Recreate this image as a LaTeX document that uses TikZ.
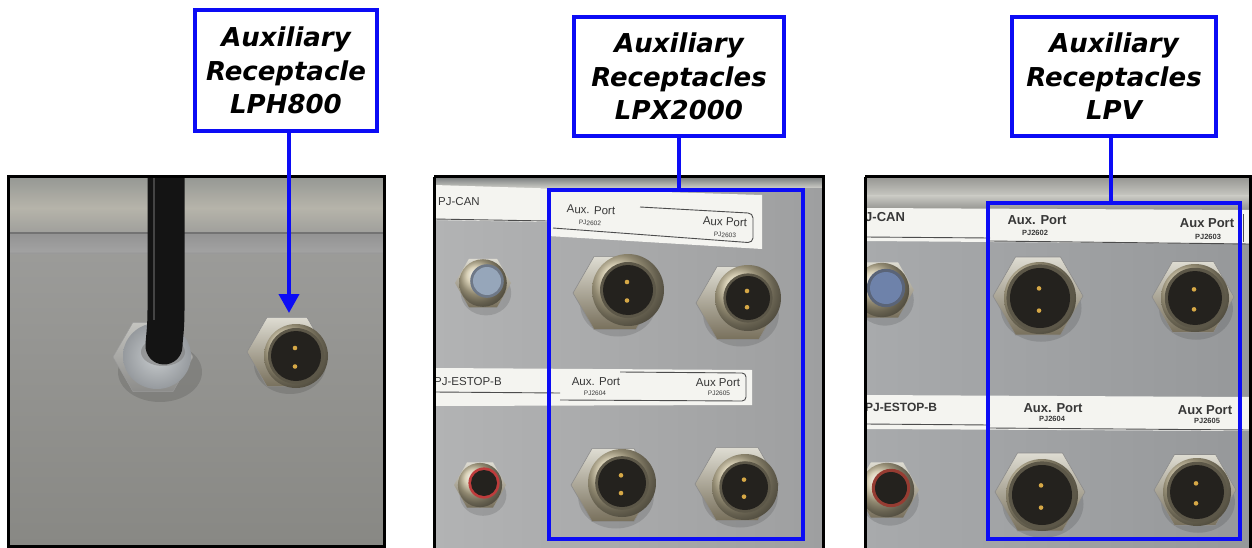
\documentclass[tikz,border=0pt]{standalone}
\usepackage{fontspec}
\newfontfamily\labfont{DejaVu Sans}
\newfontfamily\tagfont{Liberation Sans}
\usetikzlibrary{arrows.meta,calc,fadings}
\definecolor{bx}{RGB}{12,12,245}
\definecolor{cab}{RGB}{20,20,20}
\definecolor{tagc}{RGB}{55,55,55}
\definecolor{lbl}{RGB}{244,244,240}
\definecolor{pinc}{RGB}{214,168,70}
\definecolor{jk}{RGB}{36,34,30}
\definecolor{ringc}{RGB}{205,194,160}
\definecolor{hexa}{RGB}{222,220,210}
\definecolor{hexb}{RGB}{120,112,92}
\definecolor{pa}{RGB}{160,160,158}
\definecolor{pb}{RGB}{136,136,132}
\definecolor{ra}{RGB}{150,152,148}
\definecolor{rb}{RGB}{182,180,170}
\definecolor{rc}{RGB}{160,160,156}
\definecolor{rd}{RGB}{148,148,148}
\definecolor{re}{RGB}{162,162,162}
\definecolor{ga}{RGB}{196,196,192}
\definecolor{gb}{RGB}{140,140,138}
\definecolor{gc}{RGB}{200,204,206}
\definecolor{gd}{RGB}{150,154,158}
\definecolor{qa}{RGB}{178,179,180}
\definecolor{qb}{RGB}{158,159,160}
\definecolor{qc}{RGB}{120,124,124}
\definecolor{qd}{RGB}{205,205,200}
\definecolor{sa}{RGB}{168,170,172}
\definecolor{sb}{RGB}{150,152,154}
\definecolor{sc}{RGB}{150,150,146}
\definecolor{sd}{RGB}{200,200,194}
\definecolor{cana}{RGB}{150,166,186}
\definecolor{canb}{RGB}{110,120,135}
\definecolor{canc}{RGB}{110,130,170}
\definecolor{cand}{RGB}{90,100,120}
\definecolor{esta}{RGB}{190,60,60}
\definecolor{estb}{RGB}{150,60,50}
\tikzfading[name=vband,left color=transparent!100,middle color=transparent!0,right color=transparent!100]
\tikzset{
  labbox/.style={draw=bx,line width=4pt,fill=white,inner sep=0pt,align=center,
    font=\labfont\bfseries\itshape\fontsize{26}{33.5}\selectfont},
  selbox/.style={draw=bx,line width=4pt,inner sep=0pt},
  bline/.style={draw=bx,line width=4pt},
  tagbig/.style={inner sep=0pt,text=tagc,font=\tagfont\fontsize{11.5}{12}\selectfont},
  tagsml/.style={inner sep=0pt,text=tagc,font=\tagfont\fontsize{6.5}{7}\selectfont},
  tagbig3/.style={inner sep=0pt,text=tagc,font=\tagfont\bfseries\fontsize{13}{14}\selectfont},
  tagsml3/.style={inner sep=0pt,text=tagc,font=\tagfont\bfseries\fontsize{7.5}{8}\selectfont},
  panelframe/.style={draw=black,line width=3pt},
  strip/.style={fill=lbl},
  labline/.style={draw=black!70,line width=0.9pt}
}
% #1 hex centre, #2 hex radius, #3 ring centre, #4 ring radius, #5 inner radius
\newcommand\auxjack[5]{%
  \coordinate (hc) at #1; \coordinate (rcn) at #3;
  \fill[black,opacity=0.12] ($(hc)+(3,12)$) ellipse ({#2*0.9} and {#2*0.75});
  \shade[top color=hexa,bottom color=hexb,draw=black!45,line width=0.6pt]
    (hc) +(0:#2) -- +(60:#2) -- +(120:#2) -- +(180:#2) -- +(240:#2) -- +(300:#2) -- cycle;
  \shade[ball color=ringc] (rcn) circle (#4);
  \fill[black!55!ringc] (rcn) circle ({#5*1.12});
  \fill[jk] (rcn) circle (#5);
  \fill[pinc] ($(rcn)+(-1,{-0.32*#5})$) circle (2.3);
  \fill[pinc] ($(rcn)+(-1,{0.42*#5})$) circle (2.3);
}
\newcommand\smalljack[4]{% #1 centre, #2 outer radius, #3 inner colour, #4 accent colour
  \coordinate (scn) at #1;
  \fill[black,opacity=0.12] ($(scn)+(3,10)$) ellipse ({#2*0.9} and {#2*0.8});
  \shade[top color=hexa,bottom color=hexb] (scn) +(0:#2) -- +(60:#2) -- +(120:#2) -- +(180:#2) -- +(240:#2) -- +(300:#2) -- cycle;
  \shade[ball color=ringc] (scn) circle ({#2*0.85});
  \fill[fill=#4] ($(scn)+(4,-2)$) circle ({#2*0.6});
  \fill[fill=#3] ($(scn)+(4,-2)$) circle ({#2*0.5});
}
\begin{document}
\begin{tikzpicture}[x=1pt,y=-1pt]
\useasboundingbox (0,0) rectangle (1252,548);
\fill[white] (0,0) rectangle (1252,548);

%================ panel 1 =================
\begin{scope}
\clip (8,177) rectangle (384,546);
\shade[top color=pa,bottom color=pb] (8,177) rectangle (384,546);
\shade[top color=ra,bottom color=rb] (8,177) rectangle (384,208);
\shade[top color=rb,bottom color=rc] (8,208) rectangle (384,232);
\fill[black!55] (8,231.5) rectangle (384,234.5);
\shade[top color=rd,bottom color=re] (8,234.5) rectangle (384,252);
\fill[black!40,opacity=0.5] (8,252) rectangle (384,253.5);
% grommet
\fill[black,opacity=0.12] (160,372) ellipse (42 and 30);
\shade[top color=ga,bottom color=gb,draw=black!40]
  (153,357) +(0:40) -- +(60:40) -- +(120:40) -- +(180:40) -- +(240:40) -- +(300:40) -- cycle;
\shade[inner color=gc,outer color=gd] (157,356) ellipse (34 and 33);
\fill[black!50,opacity=0.6] (163,352) ellipse (22 and 14);
% cable
\draw[cab,line width=37pt,line cap=round] (166,160) -- (166,310) .. controls (166,330) and (164,340) .. (164,346);
\draw[black!60,line width=2.5pt,opacity=0.6] (154,177) -- (154,320);
% LPH800 receptacle
\auxjack{(287,352)}{40}{(296,356)}{32}{25}
\end{scope}
\draw[panelframe] (8,177) rectangle (384,546);

%================ panel 2 =================
\begin{scope}
\clip (434,177) rectangle (823,550);
\shade[left color=qa,right color=qb] (434,177) rectangle (823,550);
\shade[top color=qc,bottom color=qd] (434,177) rectangle (823,188);
% top label strip
\fill[strip] (434,185) -- (762,195) -- (762,249) -- (548,236) -- (548,222) -- (434,220) -- cycle;
\draw[labline] (434,219) -- (548,221);
\draw[labline] (553,228) -- (748,242.5) to[out=0,in=-90] (753,238) -- (753,218) to[out=90,in=0] (748,213) -- (640,207);
% bottom label strip
\fill[strip] (434,368) -- (752,370) -- (752,405) -- (434,406) -- cycle;
\draw[labline] (434,392) -- (560,393);
\draw[labline] (560,400) -- (742,401) to[out=0,in=-90] (746,397) -- (746,377) to[out=90,in=0] (742,373) -- (620,372);
% connectors
\smalljack{(483,283)}{28}{cana}{canb}
\smalljack{(480,485)}{26}{jk}{esta}
\auxjack{(615,293)}{42}{(628,290)}{36}{25}
\auxjack{(738,303)}{42}{(748,298)}{33}{22}
\auxjack{(613,485)}{42}{(622,483)}{34}{24}
\auxjack{(737,484)}{42}{(745,487)}{33}{23}
\end{scope}
\node[tagbig,anchor=west] (t2a) at (438,202) {PJ-CAN};
\node[tagbig,rotate=-2.5] (t2b) at (591,210) {Aux. Port};
\node[tagsml,rotate=-2.5] (t2c) at (590,223) {PJ2602};
\node[tagbig,rotate=-2.5] (t2d) at (725,222) {Aux Port};
\node[tagsml,rotate=-2.5] (t2e) at (725,235) {PJ2603};
\node[tagbig,anchor=west] (t2f) at (434,382) {PJ-ESTOP-B};
\node[tagbig] (t2g) at (596,382) {Aux. Port};
\node[tagsml] (t2h) at (595,393) {PJ2604};
\node[tagbig] (t2i) at (718,383) {Aux Port};
\node[tagsml] (t2j) at (719,393) {PJ2605};
\draw[panelframe] (434,177) -- (823,177) -- (823,551) (434,551) -- (434,177);

%================ panel 3 =================
\begin{scope}
\clip (865,177) rectangle (1250,550);
\shade[left color=sa,right color=sb] (865,177) rectangle (1250,550);
\fill[black,opacity=0.18,path fading=vband] (1000,320) rectangle (1080,400);
\fill[black,opacity=0.18,path fading=vband] (1158,320) rectangle (1232,400);
\fill[black,opacity=0.14,path fading=vband] (860,300) rectangle (915,400);
\shade[top color=sc,bottom color=sd] (865,177) rectangle (1250,196);
\shade[top color=sd,bottom color=sc] (865,196) rectangle (1250,209);
% label strips
\fill[strip] (865,208) -- (1250,210) -- (1250,244) -- (865,241) -- cycle;
\draw[labline] (865,237) -- (990,238);
\draw[labline] (990,241) -- (1250,244);
\draw[labline] (1243,214) -- (1243,242);
\fill[strip] (865,395) -- (1250,397) -- (1250,431) -- (865,429) -- cycle;
\draw[labline] (865,424) -- (990,425);
\draw[labline] (990,428) -- (1250,430);
% connectors
\smalljack{(882,290)}{32}{canc}{cand}
\smalljack{(887,490)}{32}{jk}{estb}
\auxjack{(1038,296)}{45}{(1040,298)}{36}{30}
\auxjack{(1193,297)}{41}{(1195,298)}{34}{27}
\auxjack{(1040,492)}{45}{(1042,495)}{36}{30}
\auxjack{(1195,490)}{41}{(1197,492)}{34}{27}
\end{scope}
\node[tagbig3,anchor=west] (t3a) at (865,217) {J-CAN};
\node[tagbig3] (t3b) at (1037,220) {Aux. Port};
\node[tagsml3] (t3c) at (1035,233) {PJ2602};
\node[tagbig3] (t3d) at (1207,223) {Aux Port};
\node[tagsml3] (t3e) at (1208,237) {PJ2603};
\node[tagbig3,font=\tagfont\bfseries\fontsize{12}{13}\selectfont,anchor=west] (t3f) at (865,407) {PJ-ESTOP-B};
\node[tagbig3] (t3g) at (1053,408) {Aux. Port};
\node[tagsml3] (t3h) at (1052,419) {PJ2604};
\node[tagbig3] (t3i) at (1205,410) {Aux Port};
\node[tagsml3] (t3j) at (1207,421) {PJ2605};
\draw[panelframe] (865,177) -- (1250,177) -- (1250,551) (865,551) -- (865,177);

%================ callouts =================
\node[labbox,minimum width=182pt,minimum height=121pt] (lab1) at (286,70.5)
  {Auxiliary\\Receptacle\\LPH800};
\node[labbox,minimum width=210pt,minimum height=119pt] (lab2) at (679,76.5)
  {Auxiliary\\Receptacles\\LPX2000};
\node[labbox,minimum width=204pt,minimum height=119pt] (lab3) at (1114,76.5)
  {Auxiliary\\Receptacles\\LPV};
\node[selbox,minimum width=254pt,minimum height=349pt] (sel2) at (676,364.5) {};
\node[selbox,minimum width=252pt,minimum height=336pt] (sel3) at (1114,371) {};
\coordinate (tip1) at (289,313);
\draw[bline,-{Triangle[width=20pt,length=19pt]}] ([xshift=3pt]lab1.south) -- (tip1);
\draw[bline] (lab2.south) -- (lab2.south |- sel2.north);
\draw[bline] ([xshift=-3pt]lab3.south) -- ([xshift=-3pt]lab3.south |- sel3.north);
\end{tikzpicture}
\end{document}
